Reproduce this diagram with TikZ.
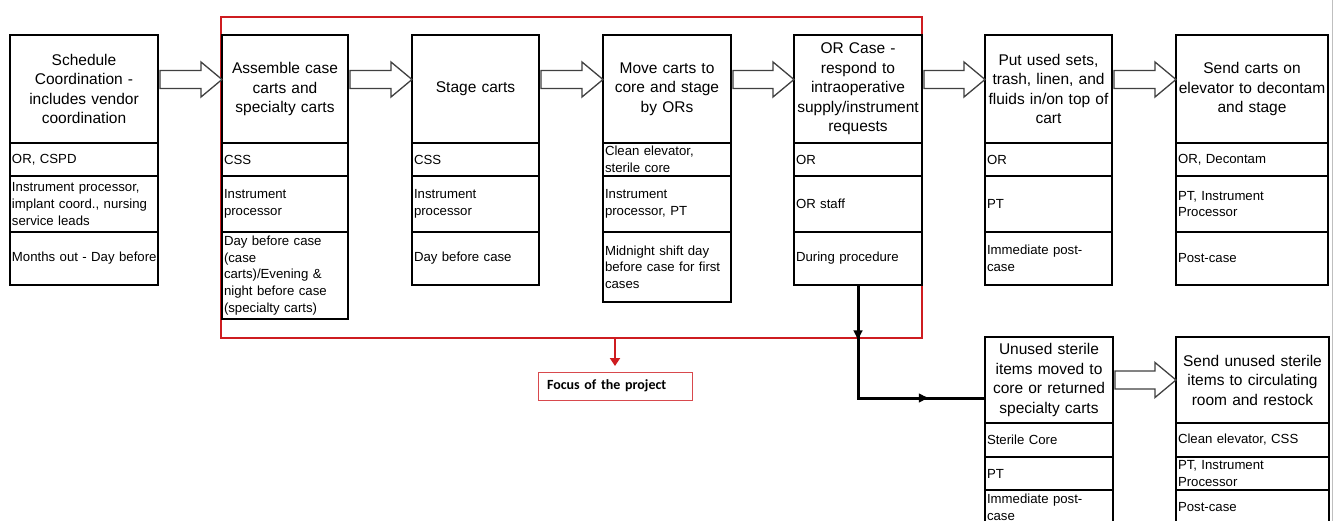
\documentclass[tikz,border=0pt]{standalone}
\usepackage{fontspec}
\setmainfont{Liberation Sans}
\newfontfamily\notefont{Carlito}
\usetikzlibrary{arrows.meta}
\usetikzlibrary{positioning}
\usetikzlibrary{calc}
\usetikzlibrary{decorations.markings}
\usepackage{xcolor}
\definecolor{myred}{RGB}{206,28,32}
\colorlet{mygray}{black!75}
\hyphenpenalty=10000
\tikzset{
  >=latex,
  head/.style={draw,line width=2,inner xsep=2,inner ysep=0,outer sep=0,align=center,font=\fontsize{15.5}{19.5}\selectfont},
  cell/.style={draw,line width=2,inner xsep=2,inner ysep=0,outer sep=0,align=left,font=\fontsize{13.2}{16.6}\selectfont},
  focus box/.style={draw=myred,line width=2.8,inner sep=0,outer sep=0},
  note/.style={draw=myred!80,line width=1,fill=white,inner xsep=9,inner ysep=0,outer sep=0,align=left,font=\notefont\bfseries\fontsize{14}{16}\selectfont},
  block arrow/.style={draw=mygray,line width=1.3,fill=white,line join=miter},
  connect/.style={line width=3,black,line join=miter},
  focus arrow/.style={-{Triangle[length=8,width=10]},myred,line width=2.2,shorten >=6}
}

\begin{document}
\begin{tikzpicture}[x=1pt,y=-1pt]
    \useasboundingbox (0,0) rectangle (1335,521);

    % focus of the project
    \node[focus box,minimum width=701,minimum height=321,anchor=north west] (focus) at (221,17) {};

    % top row of steps
    \node[head,text width=144,minimum height=108,anchor=north west] (sched) at (10,35) {Schedule\\Coordination -\\includes vendor\\coordination};
    \node[cell,text width=144,minimum height=33,below=0pt of sched] (schedA) {OR, CSPD};
    \node[cell,text width=144,minimum height=56,below=0pt of schedA] (schedB) {Instrument processor,\\implant coord., nursing\\service leads};
    \node[cell,text width=144,minimum height=53,below=0pt of schedB] (schedC) {\mbox{Months out - Day before}};

    \node[head,text width=122,minimum height=108,anchor=north west] (assem) at (222,35) {Assemble case\\carts and\\specialty carts};
    \node[cell,text width=122,minimum height=33,below=0pt of assem] (assemA) {CSS};
    \node[cell,text width=122,minimum height=56,below=0pt of assemA] (assemB) {Instrument\\processor};
    \node[cell,text width=122,minimum height=87,below=0pt of assemB] (assemC) {Day before case\\(case\\carts)/Evening \&\\night before case\\(specialty carts)};

    \node[head,text width=123,minimum height=108,anchor=north west] (stage) at (412,35) {Stage carts};
    \node[cell,text width=123,minimum height=33,below=0pt of stage] (stageA) {CSS};
    \node[cell,text width=123,minimum height=56,below=0pt of stageA] (stageB) {Instrument\\processor};
    \node[cell,text width=123,minimum height=53,below=0pt of stageB] (stageC) {Day before case};

    \node[head,text width=124,minimum height=108,anchor=north west] (move) at (603,35) {Move carts to\\core and stage\\by ORs};
    \node[cell,text width=124,minimum height=33,below=0pt of move] (moveA) {Clean elevator,\\sterile core};
    \node[cell,text width=124,minimum height=56,below=0pt of moveA] (moveB) {Instrument\\processor, PT};
    \node[cell,text width=124,minimum height=70,below=0pt of moveB] (moveC) {Midnight shift day\\before case for first\\cases};

    \node[head,text width=124,minimum height=108,anchor=north west] (orcase) at (794,35) {OR Case -\\respond to\\intraoperative\\supply/instrument\\requests};
    \node[cell,text width=124,minimum height=33,below=0pt of orcase] (orcaseA) {OR};
    \node[cell,text width=124,minimum height=56,below=0pt of orcaseA] (orcaseB) {OR staff};
    \node[cell,text width=124,minimum height=53,below=0pt of orcaseB] (orcaseC) {During procedure};

    \node[head,text width=123,minimum height=108,anchor=north west] (putused) at (985,35) {Put used sets,\\trash, linen, and\\fluids in/on top of\\cart};
    \node[cell,text width=123,minimum height=33,below=0pt of putused] (putusedA) {OR};
    \node[cell,text width=123,minimum height=56,below=0pt of putusedA] (putusedB) {PT};
    \node[cell,text width=123,minimum height=53,below=0pt of putusedB] (putusedC) {Immediate post-\\case};

    \node[head,text width=148,minimum height=108,anchor=north west] (sendcart) at (1176,35) {Send carts on\\elevator to decontam\\and stage};
    \node[cell,text width=148,minimum height=33,below=0pt of sendcart] (sendcartA) {OR, Decontam};
    \node[cell,text width=148,minimum height=56,below=0pt of sendcartA] (sendcartB) {PT, Instrument\\Processor};
    \node[cell,text width=148,minimum height=53,below=0pt of sendcartB] (sendcartC) {Post-case};

    % bottom row of steps
    \node[head,text width=124,minimum height=86,anchor=north west] (unused) at (985,337) {Unused sterile\\items moved to\\core or returned\\specialty carts};
    \node[cell,text width=124,minimum height=34,below=0pt of unused] (unusedA) {Sterile Core};
    \node[cell,text width=124,minimum height=33,below=0pt of unusedA] (unusedB) {PT};
    \node[cell,text width=124,minimum height=35,below=0pt of unusedB] (unusedC) {Immediate post-\\case};

    \node[head,text width=149,minimum height=86,anchor=north west] (restock) at (1176,337) {Send unused sterile\\items to circulating\\room and restock};
    \node[cell,text width=149,minimum height=34,below=0pt of restock] (restockA) {Clean elevator, CSS};
    \node[cell,text width=149,minimum height=33,below=0pt of restockA] (restockB) {PT, Instrument\\Processor};
    \node[cell,text width=149,minimum height=35,below=0pt of restockB] (restockC) {Post-case};

    % open block arrows between steps
    \foreach \a/\b/\dy in {sched/assem/-9.5, assem/stage/-9.5, stage/move/-9.5, move/orcase/-9.5, orcase/putused/-9.5, putused/sendcart/-9.5, unused/restock/0} {
        \draw[block arrow] ($(\a.east)+(2,\dy-9)$) -- ($(\b.west)+(-21,\dy-9)$) -- ($(\b.west)+(-21,\dy-17.5)$)
            -- ($(\b.west)+(0,\dy)$) -- ($(\b.west)+(-21,\dy+17.5)$) -- ($(\b.west)+(-21,\dy+9)$) -- ($(\a.east)+(2,\dy+9)$) -- cycle;
    }

    % branch to unused items
    \coordinate (bend) at ($(orcaseC.south)+(0,113)$);
    \draw[connect,postaction={decorate},decoration={markings,
        mark=at position 0.235 with {\arrow{Latex[length=11,width=10]}},
        mark=at position 0.77 with {\arrow{Latex[length=11,width=10]}}}]
        (orcaseC.south) -- (bend) -- (unused.west |- bend);

    \node[note,text width=136,minimum height=28,anchor=north west] (note) at (538,372) {Focus of the project};
    \draw[focus arrow] (focus.south -| note.north) -- (note.north);

    \draw[black!25,line width=0.8] (1332,0) -- (1332,521);
\end{tikzpicture}
\end{document}
